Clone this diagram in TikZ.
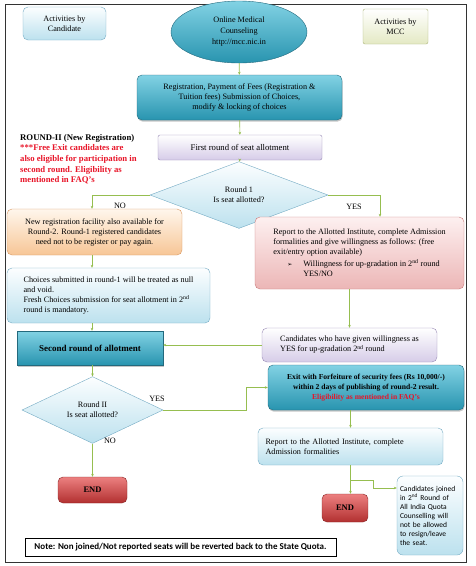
\documentclass[tikz,border=0pt]{standalone}
\usepackage{fontspec}
\setmainfont{Liberation Serif}
\newfontfamily\calibfont{Carlito}
\newfontfamily\symfont{DejaVu Sans}
\usepackage{tikz}
\usetikzlibrary{positioning}
\usetikzlibrary{arrows.meta}
\usetikzlibrary{shapes.geometric}
\usetikzlibrary{shadows}
\definecolor{flowgreen}{RGB}{150,190,80}
\definecolor{tealtop}{RGB}{130,210,228}
\definecolor{tealbot}{RGB}{40,148,175}
\definecolor{tealline}{RGB}{35,105,125}
\definecolor{skytop}{RGB}{252,254,255}
\definecolor{skybot}{RGB}{188,225,238}
\definecolor{skyline}{RGB}{115,170,195}
\definecolor{peachtop}{RGB}{255,246,236}
\definecolor{peachbot}{RGB}{247,198,150}
\definecolor{peachline}{RGB}{215,150,95}
\definecolor{rosetop}{RGB}{253,240,240}
\definecolor{rosebot}{RGB}{236,182,182}
\definecolor{roseline}{RGB}{200,120,120}
\definecolor{lilacbot}{RGB}{214,204,232}
\definecolor{lilacline}{RGB}{150,135,180}
\definecolor{endtop}{RGB}{236,128,128}
\definecolor{endbot}{RGB}{178,48,48}
\definecolor{endline}{RGB}{135,35,35}
\definecolor{olivebot}{RGB}{228,233,196}
\definecolor{oliveline}{RGB}{170,180,120}
\definecolor{notered}{RGB}{232,20,40}
\tikzset{
  box/.style={draw, rounded corners=5pt, align=center, inner sep=2pt,
    font=\fontsize{8.2}{10}\selectfont},
  tealbox/.style={box, top color=tealtop, bottom color=tealbot, draw=tealline,
    drop shadow={opacity=0.45, shadow xshift=0.6pt, shadow yshift=-1.6pt}},
  skybox/.style={box, top color=skytop, bottom color=skybot, draw=skyline},
  peachbox/.style={box, top color=peachtop, bottom color=peachbot, draw=peachline},
  rosebox/.style={box, top color=rosetop, bottom color=rosebot, draw=roseline},
  lilacbox/.style={box, top color=white, bottom color=lilacbot, draw=lilacline},
  endbox/.style={box, top color=endtop, bottom color=endbot, draw=endline,
    font=\fontsize{8.5}{10}\selectfont\bfseries},
  ask/.style={diamond, draw=skyline, top color=skytop, bottom color=skybot,
    inner sep=0pt, align=center, font=\fontsize{8.2}{10}\selectfont},
  flow/.style={draw=flowgreen, line width=0.6pt, -{Stealth[length=3pt,width=2.6pt]}},
  lbl/.style={font=\fontsize{8.2}{10}\selectfont}
}
\begin{document}
\begin{tikzpicture}[x=1pt,y=-1pt]
\useasboundingbox (0,0) rectangle (475,566);
\draw[black!80, line width=0.8pt] (5,4) rectangle (466,562);
% header
\node[skybox, minimum width=83pt, minimum height=33pt] (cand) at (64.5,23.5) {Activities by\\Candidate};
\node[ellipse, draw=tealline, top color=tealtop, bottom color=tealbot, inner sep=0pt,
  minimum width=136pt, minimum height=62pt, align=center,
  font=\fontsize{8.2}{11}\selectfont] (omc) at (239,32) {Online Medical\\Counseling\\http://mcc.nic.in};
\node[box, top color=white, bottom color=olivebot, draw=oliveline, rounded corners=2pt,
  minimum width=65pt, minimum height=35pt] (mcc) at (395.5,26.5) {Activities by\\MCC};
% round 1
\node[tealbox, minimum width=205pt, minimum height=45pt] (reg) at (239.5,97.5)
  {Registration, Payment of Fees (Registration \&\\Tuition fees) Submission of Choices,\\modify \& locking of choices};
\node[lilacbox, rounded corners=2pt, minimum width=164pt, minimum height=25pt,
  font=\fontsize{8.7}{10}\selectfont] (first) at (240,147.5)
  {First round of seat allotment};
\node[ask, minimum width=178pt, minimum height=50pt] (r1) at (239,195) {Round 1\\Is seat allotted?};
\node[anchor=north west, align=left, inner sep=0pt,
  font=\fontsize{8.7}{10.6}\selectfont\bfseries] (roundtwo) at (20,134)
  {ROUND-II (New Registration)\\
   \textcolor{notered}{***Free Exit candidates are}\\
   \textcolor{notered}{also eligible for participation in}\\
   \textcolor{notered}{second round. Eligibility as}\\
   \textcolor{notered}{mentioned in FAQ's}};
\node[peachbox, minimum width=175pt, minimum height=46pt] (newreg) at (94.5,232)
  {New registration facility also available for\\Round-2. Round-1 registered candidates\\need not to be register or pay again.};
\node[skybox, align=left, minimum width=203pt, minimum height=55pt] (choices) at (108.5,295.5)
  {Choices submitted in round-1 will be treated as null\\and void.\\Fresh Choices submission for seat allotment in 2\textsuperscript{nd}\\round is mandatory.};
\node[rosebox, align=left, minimum width=209pt, minimum height=72pt] (report1) at (359.5,253)
  {Report to the Allotted Institute, complete Admission\\
   formalities and give willingness as follows: (free\\
   exit/entry option available)\\[2pt]
   \hspace*{14pt}\makebox[16pt][l]{\symfont\fontsize{6}{10}\selectfont ➢}Willingness for up-gradation in 2\textsuperscript{nd} round\\
   \hspace*{30pt}YES/NO};
% round 2
\node[tealbox, rounded corners=0pt, minimum width=146pt, minimum height=34pt,
  font=\fontsize{9}{10}\selectfont\bfseries] (second) at (90,348) {Second round of allotment};
\node[lilacbox, align=left, minimum width=175pt, minimum height=34pt] (willing) at (349.5,345)
  {Candidates who have given willingness as\\YES for up-gradation 2\textsuperscript{nd} round};
\node[tealbox, minimum width=196pt, minimum height=45pt,
  font=\fontsize{7.6}{10}\selectfont\bfseries] (exit) at (366,387.5)
  {Exit with Forfeiture of security fees (Rs 10,000/-)\\within 2 days of publishing of round-2 result.\\\textcolor{notered}{Eligibility as mentioned in FAQ's}};
\node[ask, minimum width=141pt, minimum height=56pt] (r2) at (92.5,410) {Round II\\Is seat allotted?};
\node[endbox, minimum width=69pt, minimum height=26pt] (end1) at (92.5,490) {END};
\node[skybox, align=left, text width=170pt, minimum width=185pt, minimum height=37pt] (report2) at (350.5,446.5)
  {Report to the Allotted Institute, complete\\Admission formalities};
\node[endbox, minimum width=46pt, minimum height=28pt] (end2) at (345,508) {END};
\node[skybox, rounded corners=6pt, align=left, text width=60pt, minimum width=66pt, minimum height=79pt,
  inner sep=3pt, font=\calibfont\fontsize{7.5}{9}\selectfont] (side) at (430,515.5)
  {Candidates joined\\in 2\textsuperscript{nd} Round of\\All India Quota\\Counselling will\\not be allowed\\to resign/leave\\the seat.};
\node[draw=black, fill=white, line width=0.6pt, minimum width=311pt, minimum height=18pt, inner sep=2pt,
  font=\calibfont\fontsize{9}{10}\selectfont\bfseries] (note) at (180.5,547)
  {Note: Non joined/Not reported seats will be reverted back to the State Quota.};
% connectors
\draw[flow] (omc) -- (reg);
\draw[flow] (reg) -- (first);
\draw[flow] (first) -- (r1);
\draw[flow] (r1.west) -| ([xshift=-2.5pt]newreg.north);
\draw[flow] (r1.east) -| ([xshift=20.5pt]report1.north);
\node[lbl] (no1) at (120,206) {NO};
\node[lbl] (yes1) at (354,207) {YES};
\draw[flow] ([xshift=-2.5pt]newreg.south) -- ([xshift=-2.5pt]newreg.south |- choices.north);
\draw[flow] ([xshift=-2.5pt]newreg.south |- choices.south) -- ([xshift=-2.5pt]newreg.south |- second.north);
\draw[flow] (willing.north |- report1.south) -- (willing.north);
\draw[flow] (willing.west) -- (willing.west -| second.east);
\draw[flow] (second.south -| r2.north) -- (r2.north);
\draw[flow] (r2.east) -- ++(83,0) |- (exit.west);
\node[lbl] (yes2) at (157,399) {YES};
\draw[flow] (r2.south) -- (end1.north);
\node[lbl] (no2) at (110,441) {NO};
\draw[flow] (report2.south |- exit.south) -- (report2.north);
\draw[flow] (report2.south) -- (report2.south |- end2.north);
\coordinate (brk) at (373,488);
\draw[flow] (report2.south |- 0,480) -| (brk) -- (brk -| side.west);
\end{tikzpicture}
\end{document}
